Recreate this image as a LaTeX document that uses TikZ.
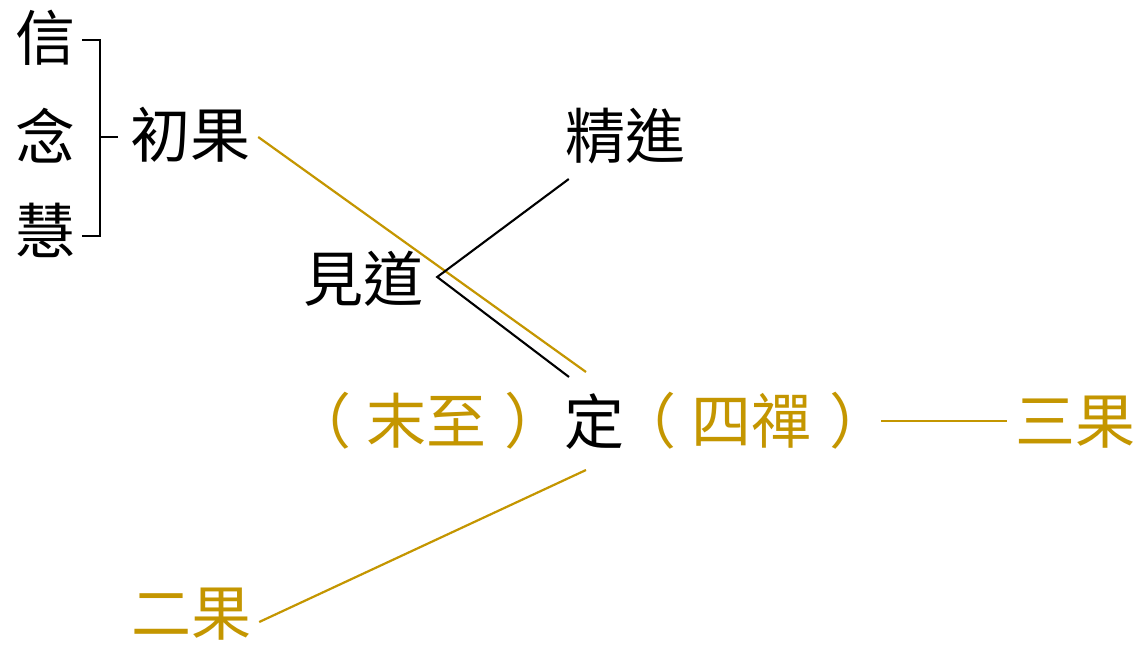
\documentclass[tikz,border=0pt]{standalone}
\usepackage{fontspec}
\newfontfamily\cjk{Noto Sans CJK TC}
\usetikzlibrary{calc}
\definecolor{gold}{RGB}{196,150,0}
\newcommand{\lp}{\kern-16pt（\kern16pt}
\newcommand{\rp}{\kern18pt）\kern-18pt}
\begin{document}
\begin{tikzpicture}[x=1pt,y=-1pt,
  lbl/.style={inner sep=0pt, font=\cjk\fontsize{60}{60}\selectfont},
  blk/.style={lbl,text=black},
  gld/.style={lbl,text=gold},
  bline/.style={draw=black,line width=2.1pt},
  gline/.style={draw=gold,line width=2.2pt}]
\useasboundingbox[fill=white] (0,0) rectangle (1142,648);
\node[blk] (xin) at (45,38) {信};
\node[blk] (nian) at (45,136) {念};
\node[blk] (hui) at (45,230) {慧};
\node[blk] (chu) at (190,135) {初果};
\node[blk] (jing) at (625,136) {精進};
\node[blk] (jian) at (363,279) {見道};
\node[gld] (wz) at (427,421) {\lp 末至\rp};
\node[blk] (ding) at (594,422) {定};
\node[gld] (sc) at (752,421) {\lp 四禪\rp};
\node[gld] (sg) at (1075,422) {三果};
\node[gld] (eg) at (191,614) {二果};
% bracket
\coordinate (bt) at ($(xin.east)+(7,2)$);
\coordinate (bb) at ($(hui.east)+(25,6)$);
\coordinate (bbe) at ($(hui.east)+(7,6)$);
\draw[bline] (bt) -| (bb) -- (bbe);
\coordinate (bm1) at ($(chu.west)+(-30,2)$);
\coordinate (bm2) at ($(chu.west)+(-12,2)$);
\draw[bline] (bm1) -- (bm2);
% lines
\coordinate (g1s) at ($(chu.east)+(8,2)$);
\coordinate (g1e) at ($(ding.center)+(-8,-50)$);
\draw[gline] (g1s) -- (g1e);
\coordinate (vx) at ($(jian.east)+(14,-2)$);
\coordinate (ju) at ($(jing.west)+(4,43)$);
\coordinate (dl) at ($(ding.center)+(-25,-45)$);
\draw[bline] (ju) -- (vx) -- (dl);
\coordinate (e1) at ($(eg.east)+(8,8)$);
\coordinate (e2) at ($(ding.center)+(-8,48)$);
\draw[gline] (e1) -- (e2);
\coordinate (h1) at ($(sc.east)+(9,0)$);
\coordinate (h2) at ($(sg.west)+(-8,-1)$);
\draw[gline] (h1) -- (h2);
\end{tikzpicture}
\end{document}
